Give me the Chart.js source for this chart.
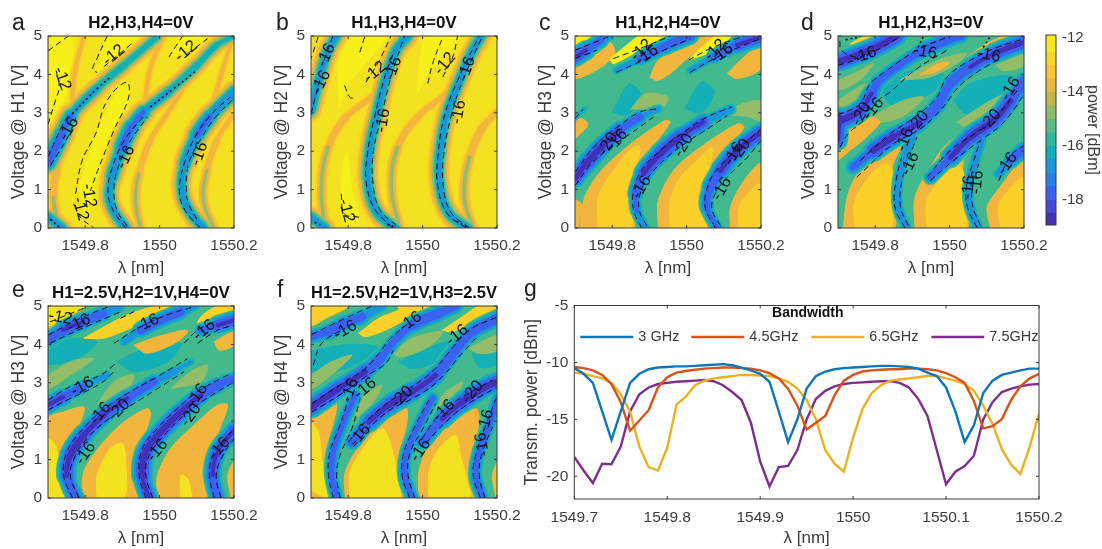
<!DOCTYPE html>
<html>
<head>
<meta charset="utf-8">
<script src="https://cdn.jsdelivr.net/npm/chart.js@4"></script>
<style>
  html, body { margin: 0; padding: 0; background: #fff; }
  body { width: 1102px; height: 549px; position: relative; overflow: hidden; }
  canvas { position: absolute; filter: blur(0.45px); }
</style>
</head>
<body>
<script>
// Axis ticks
const lambdaTicks = [1549.8, 1550, 1550.2];
const voltTicks = [0, 1, 2, 3, 4, 5];
const gLambdaTicks = [1549.7, 1549.8, 1549.9, 1550, 1550.1, 1550.2];
const gPowerTicks = [-20, -15, -10, -5];
const cbarTicks = [-18, -16, -14, -12];

// Colour bar
const cbarEdges = [-11.9, -12.5, -13, -13.5, -14, -14.5, -15, -15.5, -16, -16.5, -17, -17.5, -18, -18.5, -19];
const cbarColors = ['#f6ea1e', '#f9d72a', '#f8c534', '#e6b93e', '#c4b84c', '#8fbc68', '#5cba84', '#2fb69e', '#12aebc', '#1a98d8', '#2a80e8', '#3a62ee', '#4448d8', '#4430b0'];

// Contour fill levels [dBm] and their colours
const powerLevels = [-12, -12.5, -13, -13.7, -14.7, -15.5, -16, -16.7, -17.5, -18.8];
const powerColors = ['#f8f01a', '#f3e21f', '#fbd028', '#f3b63c', '#93bd68', '#43b98e', '#14b0b8', '#1a94dc', '#3a62ee', '#4330b8'];

// Panel g: transmitted power
const lambdaG = [1549.70, 1549.71, 1549.72, 1549.73, 1549.74, 1549.75, 1549.76, 1549.77, 1549.78, 1549.79,
  1549.80, 1549.81, 1549.82, 1549.83, 1549.84, 1549.85, 1549.86, 1549.87, 1549.88, 1549.89,
  1549.90, 1549.91, 1549.92, 1549.93, 1549.94, 1549.95, 1549.96, 1549.97, 1549.98, 1549.99,
  1550.00, 1550.01, 1550.02, 1550.03, 1550.04, 1550.05, 1550.06, 1550.07, 1550.08, 1550.09,
  1550.10, 1550.11, 1550.12, 1550.13, 1550.14, 1550.15, 1550.16, 1550.17, 1550.18, 1550.19, 1550.20];
const bw3 = [-10.5, -11, -11.8, -14.3, -16.8, -14.3, -11.8, -11, -10.6, -10.45,
  -10.4, -10.35, -10.35, -10.3, -10.25, -10.2, -10.15, -10.25, -10.45, -10.7,
  -11, -11.7, -14.3, -17, -15, -12.3, -11.2, -10.8, -10.6, -10.5,
  -10.45, -10.4, -10.35, -10.3, -10.3, -10.35, -10.4, -10.55, -10.9, -11.2,
  -12.2, -14.3, -17, -15.5, -12.7, -11.6, -11.1, -10.9, -10.7, -10.55, -10.55];
const bw45 = [-10.4, -10.5, -10.7, -11.1, -11.9, -13.5, -16, -15.1, -14.2, -12.2,
  -11.3, -10.9, -10.75, -10.65, -10.55, -10.5, -10.45, -10.45, -10.5, -10.55,
  -10.7, -10.95, -11.4, -12.3, -13.8, -15.9, -15.3, -14.7, -12.9, -11.6,
  -11.1, -10.8, -10.7, -10.65, -10.6, -10.6, -10.55, -10.55, -10.6, -10.7,
  -10.95, -11.3, -11.8, -13.4, -15.8, -15.6, -15, -13.3, -12.1, -11.4, -11];
const bw65 = [-10.9, -11, -11.2, -11.4, -11.8, -12.8, -14.3, -17.4, -19.2, -19.5,
  -17.5, -13.7, -13, -12, -11.6, -11.4, -11.3, -11.2, -11.1, -11.1,
  -11.15, -11.2, -11.4, -11.7, -12.3, -13.3, -15, -17.7, -18.9, -19.6,
  -16.6, -14.1, -12.7, -12, -11.6, -11.5, -11.4, -11.3, -11.2, -11.2,
  -11.4, -11.6, -11.9, -12.5, -13.8, -15.4, -17.6, -19, -19.8, -17.4, -14.5];
const bw75 = [-18.3, -19.5, -20.6, -18.9, -18.95, -17.4, -14.3, -12.8, -12.2, -11.9,
  -11.8, -11.7, -11.65, -11.6, -11.55, -11.65, -12, -12.6, -13.3, -15.3,
  -18.7, -20.9, -19.2, -19.1, -17.7, -15, -13.2, -12.5, -12.1, -11.9,
  -11.8, -11.75, -11.7, -11.65, -11.65, -11.8, -12.2, -13.2, -14.7, -17.7,
  -20.7, -19.6, -19.1, -18.2, -15, -13.5, -12.6, -12.3, -12.1, -11.95, -11.9];

// Panel a: ridge lines [lambda, volt, power], filled regions [power, outline], contours, labels
const ridgesA = [
  [[1549.70,1.70,-18],[1549.738,2.45,-18.5],[1549.762,2.93,-17],[1549.831,3.63,-16.7],[1549.903,4.23,-16.5],[1549.992,4.97,-16.3]],
  [[1549.907,0.02,-17],[1549.881,0.37,-17],[1549.865,0.80,-17],[1549.872,1.33,-17],[1549.899,2.10,-18],[1549.925,2.63,-18.5],[1549.957,3.02,-17],[1550.028,3.58,-16.7],[1550.10,4.23,-16.5],[1550.153,4.76,-16.3],[1550.2,5,-16]],
  [[1550.118,0,-17],[1550.082,0.41,-17],[1550.06,0.97,-17],[1550.068,1.67,-17],[1550.10,2.41,-18],[1550.135,2.89,-18],[1550.2,3.54,-17]],
  [[1549.70,0.28,-17],[1549.737,0,-17]],
  [[1549.729,0,-14.5],[1549.715,0.8,-15],[1549.724,1.58,-14.3],[1549.751,2.45,-14]],
  [[1549.948,0,-14.5],[1549.935,0.71,-15],[1549.944,1.41,-14.5],[1549.975,2.28,-14.2],[1550.02,2.97,-14],[1550.06,3.58,-14]],
  [[1550.145,0,-14.5],[1550.118,0.71,-15],[1550.127,1.5,-14.5],[1550.154,2.28,-14.2],[1550.2,2.97,-14]],
  [[1549.765,3.32,-14],[1549.773,4.1,-14],[1549.796,5,-14]],
  [[1549.958,3.15,-14],[1549.976,4.19,-14],[1550.011,5,-14]],
  [[1550.145,3.32,-14],[1550.172,4.19,-14],[1550.194,4.9,-14]]
];
const lobesA = [
  [-12, [[1549.707,5],[1549.76,5],[1549.765,4.2],[1549.742,3.3],[1549.707,2.8]]],
  [-12, [[1549.783,1.06],[1549.823,2.28],[1549.877,3.41],[1549.917,3.76],[1549.917,3.32],[1549.877,2.45],[1549.832,1.32],[1549.805,0.37]]],
  [-12, [[1549.832,4.06],[1549.859,5],[1549.949,5],[1549.868,4.28]]],
  [-12, [[1550.03,4.45],[1550.057,5],[1550.129,5],[1550.075,4.63]]]
];
const contoursA = [
  [[1549.70,1.85],[1549.74,2.7],[1549.76,3.0]],
  [[1549.707,1.63],[1549.755,2.4],[1549.775,2.87]],
  [[1549.909,0],[1549.873,0.5],[1549.861,0.97],[1549.873,1.58],[1549.905,2.28],[1549.959,2.93]],
  [[1549.913,0.05],[1549.886,0.45],[1549.877,0.97],[1549.886,1.5],[1549.917,2.2],[1549.967,2.89]],
  [[1550.109,0],[1550.069,0.45],[1550.053,0.97],[1550.069,1.76],[1550.10,2.45],[1550.145,3.02],[1550.19,3.41]],
  [[1550.10,0.23],[1550.078,0.63],[1550.072,0.97],[1550.078,1.67],[1550.114,2.37],[1550.154,2.93],[1550.2,3.37]],
  [[1549.70,4.61],[1549.755,5]],
  [[1549.70,2.7],[1549.72,3.32],[1549.73,3.67],[1549.722,4.1]],
  [[1549.859,5],[1549.832,4.42],[1549.82,4.13],[1549.832,4.05]],
  [[1549.85,4.2],[1549.93,4.84]],
  [[1549.774,0.89],[1549.792,1.76],[1549.828,2.45],[1549.859,3.32],[1549.911,3.8],[1549.917,3.41],[1549.877,2.54],[1549.837,1.58],[1549.814,0.97]],
  [[1549.769,0.63],[1549.787,0.28],[1549.823,0]],
  [[1550.025,4.45],[1550.048,4.8],[1550.062,5]],
  [[1550.075,4.54],[1550.129,4.93]]
];
const dottedA = [
  [[1549.765,2.97],[1549.832,3.63],[1549.868,3.93]],
  [[1549.975,3.15],[1550.038,3.63],[1550.10,4.1]],
  [[1549.706,0.23],[1549.733,0]]
];
const labelsA = [
  [1549.738,3.89,'-12',70],[1549.877,4.5,'-12',-40],[1550.071,4.6,'-12',-40],[1549.756,2.58,'-16',-60],
  [1549.909,1.84,'-16',-65],[1550.107,1.93,'-16',-70],[1549.81,0.84,'-12',80],[1549.787,0.5,'-12',75]
];

// Panel b
const ridgesB = [
  [[1549.925,0,-17],[1549.875,0.45,-17],[1549.853,1.23,-17],[1549.857,2.02,-17],[1549.875,2.89,-17],[1549.902,3.93,-17],[1549.929,4.63,-17],[1549.96,5,-17]],
  [[1550.121,0,-17],[1550.072,0.37,-17],[1550.047,1.06,-17],[1550.045,1.84,-17],[1550.063,2.89,-17],[1550.099,3.84,-17],[1550.126,4.45,-17],[1550.157,5,-17]],
  [[1549.70,3.06,-17],[1549.723,3.93,-17],[1549.746,4.63,-17],[1549.768,5,-17]],
  [[1549.70,0.28,-17],[1549.737,0,-17]],
  [[1549.737,0,-14.7],[1549.728,1.06,-15],[1549.746,2.1,-14.7],[1549.795,2.89,-14.3],[1549.866,3.45,-14.2],[1549.898,3.8,-14.2]],
  [[1549.938,0,-14.7],[1549.916,1.06,-15],[1549.933,2.1,-14.7],[1549.987,2.89,-14.3],[1550.063,3.5,-14.2],[1550.094,3.84,-14.2]],
  [[1550.135,0,-14.7],[1550.112,0.8,-15],[1550.126,1.84,-14.8],[1550.162,2.63,-14.5],[1550.2,3.02,-14.3]]
];
const lobesB = [
  [-12, [[1549.775,3.1],[1549.80,3.76],[1549.846,4.28],[1549.90,5],[1549.785,5]]],
  [-12, [[1549.985,3.5],[1550.02,4.1],[1550.07,4.6],[1550.10,5],[1550.01,5]]],
  [-12, [[1549.79,0.1],[1549.78,1.0],[1549.795,2.0],[1549.81,1.0],[1549.83,0.1]]]
];
const contoursB = [
  [[1549.92,0],[1549.871,0.5],[1549.848,1.23],[1549.853,2.02],[1549.871,2.89],[1549.898,3.93],[1549.924,4.63]],
  [[1549.929,0.06],[1549.884,0.5],[1549.866,1.23],[1549.868,2.02],[1549.889,2.89],[1549.915,3.93],[1549.951,5]],
  [[1550.117,0],[1550.067,0.37],[1550.041,1.06],[1550.041,1.84],[1550.058,2.89],[1550.094,3.84],[1550.152,5]],
  [[1550.126,0],[1550.076,0.41],[1550.056,1.06],[1550.056,1.84],[1550.076,2.89],[1550.108,3.84],[1550.161,5]],
  [[1549.70,2.97],[1549.723,3.84]],
  [[1549.719,4.97],[1549.70,4.41]],
  [[1549.759,5],[1549.732,4.28]],
  [[1549.79,3.71],[1549.804,3.41],[1549.817,3.37]],
  [[1549.848,3.8],[1549.884,4.37],[1549.915,5]],
  [[1549.844,4.97],[1549.83,4.54]],
  [[1550.014,3.76],[1550.027,4.28],[1550.054,4.97]],
  [[1550.054,3.93],[1550.081,4.45],[1550.094,5]],
  [[1549.781,0.89],[1549.79,0.37],[1549.83,0.28]]
];
const dottedB = [[[1549.71,0.15],[1549.725,0.08]], [[1549.905,0.1],[1549.93,0]], [[1550.09,0.18],[1550.125,0]]];
const labelsB = [
  [1549.741,4.5,'-16',-65],[1549.728,3.8,'-16',-65],[1549.872,4.06,'-12',-40],[1549.921,4.15,'-16',-70],
  [1550.06,4.28,'-12',-50],[1550.119,4.15,'-16',-70],[1549.894,2.8,'-16',-80],[1550.097,3.02,'-16',-80],[1549.795,0.45,'-12',75]
];

// Panel c
const ridgesC = [
  [[1549.70,1.28,-19],[1549.73,1.67,-19.5],[1549.775,2.15,-19.5],[1549.82,2.54,-19],[1549.875,2.89,-17.5],[1549.924,3.1,-16.5]],
  [[1549.70,2.89,-16.5],[1549.726,3.1,-16.5]],
  [[1549.888,0,-17.5],[1549.866,0.45,-17.5],[1549.864,0.89,-18],[1549.884,1.41,-19],[1549.929,1.93,-19.5],[1549.983,2.37,-19.5],[1550.046,2.76,-18.5],[1550.118,3.1,-16.5]],
  [[1550.082,0,-17.5],[1550.055,0.54,-18],[1550.064,1.06,-18.5],[1550.091,1.5,-19],[1550.136,2.02,-19.5],[1550.2,2.5,-19]],
  [[1549.70,4.45,-19],[1549.73,4.63,-19],[1549.77,4.89,-17.5],[1549.794,5,-17]],
  [[1549.812,4.1,-16.5],[1549.875,4.41,-17.5],[1549.938,4.71,-19],[1550.01,5,-18]],
  [[1550.01,4.1,-16.5],[1550.073,4.45,-17.5],[1550.136,4.76,-19],[1550.2,4.97,-19]]
];
const lobesC = [
  [-16, [[1549.80,3.0],[1549.845,3.75],[1549.875,3.5],[1549.845,2.95]]],
  [-16, [[1549.995,3.1],[1550.04,3.8],[1550.075,3.55],[1550.04,3.0]]],
  [-14, [[1549.713,0],[1549.726,0.8],[1549.771,1.5],[1549.857,2.24],[1549.942,2.8],[1549.956,2.76],[1549.902,2.02],[1549.857,1.33],[1549.848,0.71],[1549.857,0]]],
  [-13, [[1549.762,0],[1549.762,0.8],[1549.803,1.5],[1549.857,2.1],[1549.875,2.1],[1549.861,1.41],[1549.848,0.71],[1549.852,0]]],
  [-14, [[1549.924,0],[1549.924,0.71],[1549.965,1.5],[1550.037,2.1],[1550.136,2.71],[1550.154,2.63],[1550.10,1.93],[1550.064,1.41],[1550.046,0.71],[1550.055,0]]],
  [-13, [[1549.956,0],[1549.956,0.71],[1549.983,1.32],[1550.037,1.84],[1550.068,2.1],[1550.059,1.41],[1550.046,0.71],[1550.05,0]]],
  [-14, [[1550.118,0],[1550.118,0.54],[1550.154,1.23],[1550.2,1.67],[1550.2,0]]],
  [-13, [[1550.14,0],[1550.145,0.63],[1550.2,1.15],[1550.2,0]]],
  [-14, [[1549.70,0],[1549.70,0.71],[1549.717,0.63],[1549.708,0]]],
  [-14, [[1549.70,2.32],[1549.735,2.71],[1549.70,2.89]]],
  [-15, [[1550.096,2.95],[1550.14,3.2],[1550.2,3.3],[1550.2,2.8],[1550.165,2.9]]],
  [-15, [[1549.85,3.1],[1549.89,3.5],[1549.95,3.4],[1549.93,3.1]]],
  [-14, [[1549.70,4.23],[1549.73,4.41],[1549.767,4.59],[1549.794,4.84],[1549.807,4.54],[1549.771,4.19],[1549.70,3.89]]],
  [-14, [[1549.902,3.93],[1549.924,4.37],[1549.974,4.63],[1550.028,4.93],[1550.082,5],[1550.001,4.41],[1549.956,4.02],[1549.92,3.84]]],
  [-14, [[1550.109,4.02],[1550.154,4.45],[1550.2,4.76],[1550.2,4.15],[1550.136,3.89]]],
  [-12, [[1549.70,5],[1549.771,5],[1549.753,4.84],[1549.70,4.67]]],
  [-12, [[1549.794,4.41],[1549.839,4.76],[1549.875,5],[1549.983,5],[1549.938,4.84],[1549.866,4.58],[1549.803,4.28]]],
  [-12, [[1550.005,4.37],[1550.046,4.76],[1550.082,5],[1550.181,5],[1550.118,4.8],[1550.055,4.54]]]
];
const contoursC = [
  [[1549.70,1.45],[1549.758,2.19],[1549.82,2.67],[1549.875,3.02],[1549.924,3.11]],
  [[1549.70,1.1],[1549.74,1.63],[1549.794,2.1],[1549.848,2.45],[1549.911,2.89]],
  [[1549.70,2.85],[1549.722,3.1]],
  [[1549.879,0],[1549.858,0.45],[1549.857,0.97],[1549.879,1.5],[1549.929,2.02],[1549.992,2.5],[1550.055,2.89],[1550.122,3.15]],
  [[1549.893,0.06],[1549.873,0.45],[1549.875,0.89],[1549.897,1.32],[1549.947,1.84],[1550,2.23],[1550.064,2.63],[1550.109,2.93]],
  [[1550.077,0],[1550.05,0.54],[1550.059,1.15],[1550.091,1.63],[1550.154,2.19],[1550.2,2.58]],
  [[1550.091,0.06],[1550.068,0.5],[1550.077,0.89],[1550.109,1.32],[1550.163,1.84],[1550.2,2.28]],
  [[1549.70,4.63],[1549.767,4.89],[1549.794,5]],
  [[1549.70,4.41],[1549.758,4.63]],
  [[1549.803,4.41],[1549.884,4.71],[1549.956,5]],
  [[1549.812,4.06],[1549.884,4.37],[1549.947,4.67],[1550.01,4.93]],
  [[1550.005,4.37],[1550.072,4.71],[1550.154,5]],
  [[1550.01,4.06],[1550.082,4.45],[1550.154,4.76],[1550.2,4.93]]
];
const labelsC = [
  [1549.879,4.63,'-12',-45],[1549.893,4.5,'-16',-35],[1550.077,4.63,'-12',-45],[1550.095,4.54,'-16',-35],
  [1549.789,2.19,'-20',-60],[1549.813,2.28,'-16',-50],[1549.992,2.15,'-20',-60],[1549.879,1.06,'-16',-60],
  [1550.127,1.93,'-16',-60],[1550.145,2.02,'-20',-55],[1550.095,1.02,'-16',-60]
];

// Panel d
const ridgesD = [
  [[1549.70,2.76,-19.5],[1549.759,3.06,-19.5],[1549.79,3.5,-18.5],[1549.808,3.8,-18.5],[1549.858,4.19,-18],[1549.92,4.58,-18.5],[1550.002,4.93,-19],[1550.029,5,-18]],
  [[1549.74,1.58,-17],[1549.795,2.02,-19.5],[1549.849,2.37,-19.5],[1549.92,2.76,-19],[1549.97,3.23,-18.5],[1550.002,3.76,-18.5],[1550.055,4.19,-19],[1550.119,4.54,-19],[1550.2,4.84,-19.5]],
  [[1549.885,0,-17.5],[1549.862,0.54,-17.5],[1549.862,1.23,-17.5],[1549.88,1.84,-17.5],[1549.898,2.37,-17.5]],
  [[1549.948,1.32,-17],[1550.002,1.84,-19],[1550.056,2.37,-19.5],[1550.119,2.8,-19.5],[1550.164,3.32,-19],[1550.2,3.84,-18.5]],
  [[1550.078,0,-17.5],[1550.055,0.54,-17.5],[1550.051,1.06,-17.5],[1550.069,1.76,-17.5],[1550.087,2.37,-17.5]],
  [[1550.132,1.41,-17],[1550.164,1.76,-18],[1550.2,2.06,-19]],
  [[1549.70,4.32,-19.5],[1549.75,4.5,-19.5],[1549.803,4.71,-19.5],[1549.858,5,-19.5]],
  [[1549.705,2.9,-19],[1549.70,2.28,-19]]
];
const lobesD = [
  [-16, [[1549.8125,3.67],[1549.867,4.02],[1549.948,4.15],[1549.993,3.89],[1549.93,3.41],[1549.84,3.23]]],
  [-16, [[1550.01,3.32],[1550.055,3.76],[1550.146,3.97],[1550.19,3.84],[1550.128,3.41],[1550.047,2.97]]],
  [-14, [[1549.714,0],[1549.727,0.89],[1549.768,1.67],[1549.82,2.19],[1549.877,2.54],[1549.868,2.1],[1549.846,1.58],[1549.85,0.71],[1549.85,0]]],
  [-13, [[1549.745,0],[1549.745,0.71],[1549.79,1.41],[1549.83,1.67],[1549.849,1.41],[1549.844,0.71],[1549.84,0]]],
  [-14, [[1549.70,1.76],[1549.70,2.45],[1549.759,2.8],[1549.822,2.89],[1549.777,2.37],[1549.732,2.02]]],
  [-14, [[1549.907,0],[1549.907,0.8],[1549.948,1.58],[1549.993,2.19],[1550.065,2.63],[1550.074,2.54],[1550.038,1.84],[1550.038,0.71],[1550.047,0]]],
  [-13, [[1549.939,0],[1549.939,0.71],[1549.98,1.32],[1550.025,1.62],[1550.043,1.23],[1550.038,0.54],[1550.043,0]]],
  [-14, [[1550.11,0],[1550.101,0.54],[1550.128,0.97],[1550.2,1.76],[1550.2,0]]],
  [-13, [[1550.137,0],[1550.133,0.63],[1550.2,1.32],[1550.2,0]]],
  [-15, [[1549.866,3.85],[1549.929,4.19],[1549.992,4.45],[1550.046,4.54],[1550.01,4.23],[1549.947,3.93]]],
  [-14, [[1549.92,4.0],[1549.97,4.28],[1550.0,4.3],[1549.96,4.05]]],
  [-15, [[1550.119,4.28],[1550.2,4.6],[1550.2,4.24],[1550.146,4.1]]],
  [-13, [[1549.732,4.8],[1549.777,5],[1549.83,5],[1549.786,4.71]]],
  [-14, [[1549.876,4.5],[1549.93,4.84],[1549.975,5],[1550.038,5],[1549.975,4.76],[1549.903,4.45]]],
  [-14, [[1550.047,4.45],[1550.092,4.76],[1550.146,5],[1550.2,5],[1550.146,4.8],[1550.083,4.5]]],
  [-15, [[1549.70,3.32],[1549.74,3.58],[1549.777,3.76],[1549.759,3.41],[1549.70,3.06]]],
  [-15, [[1549.795,2.93],[1549.876,3.32],[1549.93,3.41],[1549.885,2.97],[1549.822,2.76]]],
  [-15, [[1550.019,2.76],[1550.11,3.32],[1550.155,3.5],[1550.11,2.97],[1550.047,2.63]]],
  [-15, [[1549.70,3.85],[1549.75,4.06],[1549.795,4.28],[1549.759,3.85],[1549.70,3.58]]]
];
const contoursD = [
  [[1549.70,2.94],[1549.759,3.23],[1549.786,3.75],[1549.831,4.1],[1549.912,4.63],[1550.002,5]],
  [[1549.705,2.1],[1549.727,2.45],[1549.772,2.84],[1549.808,3.32],[1549.84,3.54],[1549.912,4.15],[1549.993,4.63]],
  [[1549.759,1.75],[1549.84,2.45],[1549.912,2.93],[1549.966,3.41],[1549.993,3.93],[1550.056,4.37],[1550.119,4.67],[1550.2,4.93]],
  [[1549.75,1.32],[1549.849,2.19],[1549.921,2.58],[1549.979,3.11],[1550.024,3.67],[1550.074,4.06],[1550.128,4.37]],
  [[1549.88,0],[1549.853,0.54],[1549.856,1.23],[1549.871,1.84]],
  [[1549.889,0.06],[1549.868,0.54],[1549.871,1.19],[1549.889,1.76],[1549.912,2.37]],
  [[1549.939,1.32],[1550.002,2.02],[1550.074,2.5],[1550.128,2.93],[1550.182,3.58]],
  [[1549.948,1.23],[1550.011,1.76],[1550.083,2.28],[1550.146,2.76],[1550.202,3.5]],
  [[1550.074,0],[1550.048,0.54],[1550.045,1.06],[1550.065,1.76],[1550.083,2.28]],
  [[1550.083,0.06],[1550.063,0.54],[1550.06,0.97],[1550.078,1.67]],
  [[1550.132,1.23],[1550.164,1.89],[1550.2,2.15]],
  [[1549.705,4.87],[1549.709,4.63],[1549.75,4.45],[1549.786,4.58]],
  [[1549.70,4.23],[1549.768,4.45],[1549.858,4.93]]
];
const dottedD = [[[1549.72,4.9],[1549.76,4.98]], [[1549.915,4.7],[1549.93,5]], [[1550.09,4.7],[1550.11,5]]];
const labelsD = [
  [1549.772,4.5,'-16',-20],[1549.934,4.58,'-16',10],[1550.105,4.5,'-16',10],[1549.763,2.97,'-20',-60],
  [1549.795,3.1,'-16',-50],[1549.894,1.67,'-16',-65],[1549.916,2.76,'-20',-50],[1549.88,2.3,'-16',-70],
  [1550.11,2.8,'-20',-50],[1550.164,3.63,'-16',-60],[1550.051,1.06,'-16',-85],[1550.074,1.19,'-16',-85],[1550.155,1.67,'-16',-55]
];

// Panel e
const ridgesE = [
  [[1549.70,4.11,-18],[1549.741,4.37,-19],[1549.795,4.59,-19],[1549.849,4.8,-18],[1549.894,5,-17]],
  [[1549.904,4.07,-16.5],[1549.949,4.37,-18],[1550.003,4.63,-19],[1550.057,4.85,-18],[1550.093,5,-17]],
  [[1550.111,4.37,-17],[1550.156,4.5,-19],[1550.2,4.63,-19]],
  [[1549.70,2.42,-19],[1549.741,2.63,-19],[1549.795,2.9,-17.5],[1549.859,3.2,-16.5]],
  [[1549.774,0,-18.5],[1549.751,0.59,-19],[1549.76,1.11,-19.5],[1549.796,1.63,-19.5],[1549.85,2.16,-19],[1549.913,2.59,-19],[1549.985,3.03,-18],[1550.039,3.29,-17],[1550.084,3.55,-16.5]],
  [[1549.972,0,-18.5],[1549.954,0.59,-19.5],[1549.963,1.2,-19.5],[1550.003,1.72,-19.5],[1550.057,2.24,-19.5],[1550.111,2.68,-19],[1550.156,2.94,-18.5],[1550.2,3.11,-18]],
  [[1550.156,0,-18.5],[1550.143,0.59,-19],[1550.156,1.2,-19],[1550.2,1.77,-19]]
];
const lobesE = [
  [-16, [[1549.70,3.94],[1549.769,4.16],[1549.832,4.07],[1549.778,3.63],[1549.70,3.5]]],
  [-16, [[1549.886,3.55],[1549.949,3.85],[1550.057,4.03],[1550.021,3.55],[1549.931,3.29]]],
  [-14, [[1549.792,0],[1549.796,0.68],[1549.841,1.37],[1549.904,1.98],[1549.967,2.33],[1549.976,2.16],[1549.954,1.46],[1549.949,0.94],[1549.94,0]]],
  [-12.5, [[1549.832,0],[1549.832,0.59],[1549.868,1.29],[1549.90,1.42],[1549.909,0.94],[1549.904,0]]],
  [-14, [[1549.994,0],[1549.994,0.59],[1550.03,1.29],[1550.102,1.98],[1550.156,2.42],[1550.183,2.42],[1550.156,1.63],[1550.152,0.94],[1550.138,0]]],
  [-12.5, [[1550.057,0],[1550.057,0.59],[1550.075,0.5],[1550.084,0]]],
  [-14, [[1549.70,0],[1549.70,2.07],[1549.742,2.24],[1549.796,2.37],[1549.787,1.98],[1549.748,1.29],[1549.742,0.59],[1549.756,0]]],
  [-12.5, [[1549.70,0],[1549.70,1.55],[1549.72,1.37],[1549.733,0.59],[1549.742,0]]],
  [-14, [[1550.192,0],[1550.183,0.59],[1550.2,0.94],[1550.2,0]]],
  [-14, [[1549.70,4.2],[1549.70,5],[1549.80,5],[1549.74,4.6]]],
  [-12.5, [[1549.70,5],[1549.796,5],[1549.747,4.71],[1549.70,4.5]]],
  [-13, [[1549.796,4.16],[1549.859,4.5],[1549.913,4.77],[1549.994,5],[1550.075,5],[1550.003,4.77],[1549.931,4.46],[1549.85,4.16]]],
  [-13, [[1550.093,4.33],[1550.111,4.72],[1550.156,5],[1550.2,5],[1550.2,4.81],[1550.147,4.59],[1550.093,4.33]]],
  [-14, [[1549.931,3.98],[1549.994,4.2],[1550.075,4.37],[1550.048,4.07],[1549.967,3.77]]],
  [-15, [[1549.70,3.2],[1549.76,3.55],[1549.823,3.63],[1549.76,3.2],[1549.70,2.85]]],
  [-15, [[1549.832,2.42],[1549.877,3.03],[1549.931,3.2],[1549.904,2.68]]],
  [-15, [[1550.03,2.85],[1550.084,3.29],[1550.129,3.46],[1550.111,3.03]]],
  [-14, [[1550.147,4.07],[1550.2,4.33],[1550.2,3.98],[1550.16,3.85]]]
];
const contoursE = [
  [[1549.70,4.24],[1549.796,4.72],[1549.868,5]],
  [[1549.706,4.03],[1549.751,4.24],[1549.823,4.55],[1549.895,4.85]],
  [[1549.877,4.03],[1549.949,4.46],[1550.021,4.77],[1550.093,4.98]],
  [[1549.895,4.68],[1549.931,4.85]],
  [[1550.066,4.03],[1550.102,4.37],[1550.147,4.59]],
  [[1550.102,4.03],[1550.156,4.37],[1550.2,4.5]],
  [[1549.70,2.55],[1549.76,2.9],[1549.841,3.2],[1549.882,3.5]],
  [[1549.70,2.29],[1549.751,2.55],[1549.841,2.98],[1549.877,3.29]],
  [[1549.766,0],[1549.742,0.59],[1549.751,1.2],[1549.787,1.72],[1549.841,2.24],[1549.913,2.72],[1549.994,3.16],[1550.075,3.63]],
  [[1549.783,0],[1549.76,0.59],[1549.774,1.11],[1549.805,1.55],[1549.859,2.03],[1549.931,2.46],[1550.003,2.9],[1550.066,3.29]],
  [[1549.963,0],[1549.945,0.59],[1549.954,1.29],[1549.994,1.81],[1550.048,2.33],[1550.102,2.77],[1550.156,3.07],[1550.192,3.24]],
  [[1549.981,0],[1549.963,0.59],[1549.972,1.11],[1550.012,1.63],[1550.066,2.16],[1550.12,2.55],[1550.192,2.98]],
  [[1550.147,0],[1550.134,0.59],[1550.147,1.2],[1550.192,1.72]],
  [[1550.165,0],[1550.152,0.59],[1550.17,1.11],[1550.2,1.55]],
  [[1549.706,4.59],[1549.796,4.94]]
];
const labelsE = [
  [1549.733,4.7,'-12',10],[1549.783,4.55,'-16',-25],[1549.967,4.55,'-16',-25],[1550.12,4.37,'-16',-40],
  [1549.792,2.9,'-16',-30],[1549.841,2.2,'-16',-50],[1549.891,2.29,'-20',-45],[1550.084,2.16,'-20',-55],
  [1550.102,2.68,'-16',-55],[1549.801,1.16,'-16',-55],[1549.994,1.24,'-16',-50],[1550.161,1.29,'-16',-50]
];

// Panel f
const ridgesF = [
  [[1549.70,4.2,-18],[1549.747,4.33,-18.5],[1549.792,4.55,-19],[1549.837,4.72,-18],[1549.891,5,-17]],
  [[1549.702,2.37,-19.5],[1549.774,2.85,-19.5],[1549.846,3.29,-19],[1549.886,3.63,-18.5],[1549.922,4.07,-18],[1549.972,4.5,-18.5],[1550.044,4.81,-19],[1550.089,5,-18]],
  [[1549.81,1.46,-18],[1549.855,1.98,-19],[1549.909,2.42,-19.5],[1549.972,2.77,-19.5],[1550.035,3.2,-19],[1550.089,3.85,-18.5],[1550.134,4.33,-18.5],[1550.202,4.68,-19]],
  [[1549.769,0,-18],[1549.756,0.59,-18],[1549.76,1.2,-18],[1549.787,1.98,-18],[1549.819,2.68,-18]],
  [[1549.972,0,-18],[1549.952,0.59,-18],[1549.958,1.2,-18],[1549.99,1.9,-18],[1550.026,2.59,-18]],
  [[1549.999,1.46,-18],[1550.053,2.07,-19],[1550.107,2.5,-19.5],[1550.161,2.85,-19.5],[1550.202,3.03,-19.5]],
  [[1550.161,0,-18],[1550.143,0.59,-18],[1550.152,1.2,-18],[1550.179,1.9,-18],[1550.202,2.59,-18]]
];
const lobesF = [
  [-16, [[1549.70,3.83],[1549.80,4.0],[1549.88,3.91],[1549.80,3.39],[1549.70,3.3]]],
  [-16, [[1549.936,3.54],[1549.999,3.84],[1550.071,4.06],[1550.044,3.58],[1549.972,3.37]]],
  [-16, [[1550.134,3.76],[1550.202,3.97],[1550.202,3.5],[1550.152,3.41]]],
  [-14, [[1549.70,0],[1549.70,2.16],[1549.747,2.46],[1549.769,2.42],[1549.747,1.46],[1549.742,0.59],[1549.751,0]]],
  [-12.5, [[1549.70,0.2],[1549.70,1.95],[1549.72,1.7],[1549.733,0.6],[1549.742,0]]],
  [-14, [[1549.792,0],[1549.792,0.68],[1549.837,1.46],[1549.891,1.98],[1549.954,2.37],[1549.958,1.98],[1549.94,1.2],[1549.945,0]]],
  [-12.5, [[1549.805,0],[1549.805,0.68],[1549.846,1.37],[1549.891,1.81],[1549.909,1.55],[1549.931,0.68],[1549.936,0]]],
  [-14, [[1549.99,0],[1549.99,0.68],[1550.017,1.37],[1550.08,1.98],[1550.143,2.33],[1550.152,2.07],[1550.134,0.94],[1550.138,0]]],
  [-12.5, [[1550.017,0],[1550.017,0.68],[1550.044,1.29],[1550.089,1.63],[1550.102,1.11],[1550.12,0.42],[1550.125,0]]],
  [-14, [[1550.197,0],[1550.188,0.59],[1550.202,0.94],[1550.202,0]]],
  [-13, [[1549.70,5],[1549.80,5],[1549.738,4.67],[1549.70,4.5]]],
  [-13, [[1549.828,4.29],[1549.882,4.68],[1549.936,4.9],[1549.936,5],[1550.044,5],[1549.963,4.68],[1549.90,4.37],[1549.846,4.2]]],
  [-13, [[1550.053,4.37],[1550.107,4.72],[1550.152,5],[1550.202,5],[1550.202,4.9],[1550.143,4.59],[1550.08,4.33]]],
  [-15, [[1549.918,3.76],[1549.972,4.16],[1550.053,4.33],[1550.017,3.94],[1549.945,3.68]]],
  [-15, [[1550.125,3.9],[1550.202,4.24],[1550.202,3.85],[1550.152,3.76]]],
  [-15, [[1549.70,3.2],[1549.756,3.55],[1549.81,3.72],[1549.765,3.29],[1549.70,2.85]]],
  [-15, [[1549.80,1.98],[1549.836,2.59],[1549.891,2.94],[1549.855,2.33]]],
  [-15, [[1550.008,2.07],[1550.044,2.59],[1550.107,3.03],[1550.08,2.5]]]
];
const contoursF = [
  [[1549.706,3.46],[1549.729,4.03],[1549.792,4.42]],
  [[1549.702,4.26],[1549.792,4.68],[1549.864,5]],
  [[1549.702,2.46],[1549.783,2.98],[1549.846,3.37],[1549.882,3.76],[1549.914,4.16],[1549.972,4.63]],
  [[1549.702,2.24],[1549.783,2.72],[1549.846,3.16],[1549.90,3.5],[1549.922,3.85]],
  [[1549.801,1.46],[1549.846,1.98],[1549.909,2.5],[1549.972,2.9],[1550.026,3.29],[1550.075,3.85],[1550.125,4.37],[1550.202,4.72]],
  [[1549.814,1.33],[1549.864,1.9],[1549.918,2.33],[1549.981,2.63],[1550.044,3.07],[1550.098,3.68],[1550.143,4.16]],
  [[1549.76,0],[1549.747,0.59],[1549.751,1.2],[1549.778,1.9],[1549.801,2.59]],
  [[1549.778,0],[1549.769,0.59],[1549.778,1.11],[1549.81,1.81],[1549.832,2.59]],
  [[1549.965,0],[1549.945,0.59],[1549.95,1.2],[1549.981,1.9],[1550.017,2.55]],
  [[1549.979,0],[1549.961,0.59],[1549.967,1.2],[1549.999,1.77],[1550.035,2.46]],
  [[1549.999,1.55],[1550.044,2.16],[1550.107,2.63],[1550.188,3.07]],
  [[1550.008,1.42],[1550.062,1.98],[1550.116,2.41],[1550.202,2.9]],
  [[1550.155,0],[1550.136,0.59],[1550.145,1.2],[1550.17,1.9],[1550.197,2.59]],
  [[1550.168,0],[1550.152,0.59],[1550.161,1.2],[1550.188,1.85]]
];
const labelsF = [
  [1549.792,4.37,'-16',-30],[1549.967,4.59,'-16',-35],[1550.093,4.24,'-16',-40],[1549.805,2.81,'-16',-70],
  [1549.846,2.85,'-16',-40],[1549.945,2.63,'-20',-45],[1549.832,1.63,'-16',-50],[1550.134,2.76,'-20',-50],
  [1550.057,2.28,'-16',-45],[1549.994,1.24,'-16',-55],[1550.17,2.0,'-16',-75],[1550.161,1.4,'-16',-100]
];

const FONT = '"Liberation Sans", Arial, sans-serif';
const TEXT = '#3c3c3c';
const FRAME = '#3a3a3a';

function colorOf(p) {
  let best = 0;
  powerLevels.forEach((l, i) => { if (Math.abs(l - p) < Math.abs(powerLevels[best] - p)) best = i; });
  return powerColors[best];
}

function toPoints(list) {
  return list.map(p => ({ x: p[0], y: p[1] }));
}

// frame, inward ticks and the panel letter
function drawFrame(chart, letter) {
  const { ctx, chartArea: a, scales } = chart;
  ctx.save();
  ctx.strokeStyle = FRAME;
  ctx.lineWidth = 1;
  ctx.strokeRect(a.left, a.top, a.right - a.left, a.bottom - a.top);
  ctx.beginPath();
  scales.x.ticks.forEach(t => {
    const px = scales.x.getPixelForValue(t.value);
    ctx.moveTo(px, a.bottom); ctx.lineTo(px, a.bottom - 3);
    ctx.moveTo(px, a.top); ctx.lineTo(px, a.top + 3);
  });
  scales.y.ticks.forEach(t => {
    const py = scales.y.getPixelForValue(t.value);
    ctx.moveTo(a.left, py); ctx.lineTo(a.left + 3, py);
    ctx.moveTo(a.right, py); ctx.lineTo(a.right - 3, py);
  });
  ctx.stroke();
  if (letter) {
    ctx.fillStyle = '#222';
    ctx.font = '23px ' + FONT;
    ctx.textAlign = 'left';
    ctx.textBaseline = 'alphabetic';
    ctx.fillText(letter.text, letter.x, letter.y);
  }
  ctx.restore();
}

function contourPanel(cfg) {
  const canvas = document.createElement('canvas');
  canvas.width = 258; canvas.height = 279;
  canvas.style.left = (cfg.left - 48) + 'px';
  canvas.style.top = (cfg.top - 36) + 'px';
  document.body.appendChild(canvas);

  // paint order: filled regions, ridges level by level, then contours
  const sets = [];
  cfg.lobes.forEach(([p, outline]) => {
    const c = colorOf(p);
    sets.push({ data: toPoints(outline.concat([outline[0]])), showLine: true, tension: 0.3, fill: 'shape',
      backgroundColor: c, borderColor: c, borderWidth: 1, pointRadius: 0, clip: 0 });
  });
  powerLevels.forEach((level, i) => {
    if (level > cfg.bg) return;
    cfg.ridges.forEach(r => {
      const segP = ctx => (r[ctx.p0DataIndex][2] + r[ctx.p1DataIndex][2]) / 2;
      sets.push({ data: toPoints(r), showLine: true, tension: 0.4, pointRadius: 0, clip: 0,
        borderColor: powerColors[i], borderWidth: 1, borderCapStyle: 'round', borderJoinStyle: 'round',
        segment: {
          borderColor: ctx => segP(ctx) < level ? powerColors[i] : 'rgba(0,0,0,0)',
          borderWidth: ctx => Math.max(0.1, 3 + 5 * (level - segP(ctx)))
        } });
    });
  });
  cfg.contours.forEach(c => {
    sets.push({ data: toPoints(c), showLine: true, tension: 0.4, pointRadius: 0, clip: 0,
      borderColor: '#10101a', borderWidth: 1, borderDash: [6, 4] });
  });
  (cfg.dotted || []).forEach(c => {
    sets.push({ data: toPoints(c), showLine: true, tension: 0.4, pointRadius: 0, clip: 0,
      borderColor: '#10101a', borderWidth: 1.6, borderDash: [2, 3] });
  });

  const extras = {
    id: 'panelExtras',
    beforeDatasetsDraw(chart) {
      const a = chart.chartArea;
      chart.ctx.save();
      chart.ctx.fillStyle = colorOf(cfg.bg);
      chart.ctx.fillRect(a.left, a.top, a.right - a.left, a.bottom - a.top);
      chart.ctx.restore();
    },
    afterDatasetsDraw(chart) {
      const { ctx, scales, chartArea: a } = chart;
      ctx.save();
      ctx.beginPath();
      ctx.rect(a.left, a.top, a.right - a.left, a.bottom - a.top);
      ctx.clip();
      ctx.fillStyle = '#14141c';
      ctx.font = '16.5px ' + FONT;
      ctx.textAlign = 'center';
      ctx.textBaseline = 'middle';
      cfg.labels.forEach(([l, v, text, rot]) => {
        ctx.save();
        ctx.translate(scales.x.getPixelForValue(l), scales.y.getPixelForValue(v));
        ctx.rotate(rot * Math.PI / 180);
        ctx.fillText(text, 0, 0);
        ctx.restore();
      });
      ctx.restore();
    },
    afterDraw(chart) { drawFrame(chart, cfg.letter); }
  };

  new Chart(canvas, {
    type: 'scatter',
    data: { datasets: sets.reverse() },
    plugins: [extras],
    options: {
      responsive: false, animation: false, events: [],
      plugins: {
        legend: { display: false }, tooltip: { enabled: false },
        title: { display: true, text: cfg.title, fullSize: false, color: '#111',
          font: { family: FONT, size: 17, weight: 'bold' }, padding: { top: 12.8, bottom: 2.8 } }
      },
      scales: {
        x: { type: 'linear', min: 1549.7, max: 1550.2, grid: { display: false, drawTicks: false }, border: { display: false },
          afterBuildTicks: s => { s.ticks = lambdaTicks.map(value => ({ value })); },
          afterFit: s => { s.height = 51; s.paddingLeft = 0; s.paddingRight = 24; },
          ticks: { color: TEXT, padding: 8, maxRotation: 0, autoSkip: false, font: { family: FONT, size: 15.5 }, callback: v => String(v) },
          title: { display: true, text: 'λ [nm]', color: TEXT, padding: 0, font: { family: FONT, size: 17 } } },
        y: { type: 'linear', min: 0, max: 5, grid: { display: false, drawTicks: false }, border: { display: false },
          afterBuildTicks: s => { s.ticks = voltTicks.map(value => ({ value })); },
          afterFit: s => { s.width = 48; },
          ticks: { color: TEXT, padding: 6, font: { family: FONT, size: 15.5 }, callback: v => String(v) },
          title: { display: true, text: cfg.ylabel, color: TEXT, padding: { top: 9, bottom: 0 }, font: { family: FONT, size: 17.5 } } }
      }
    }
  });
}

contourPanel({ left: 48, top: 36, bg: -12.5, title: 'H2,H3,H4=0V', ylabel: 'Voltage @ H1 [V]', letter: { text: 'a', x: 12, y: 30 }, lobes: lobesA, ridges: ridgesA, contours: contoursA, dotted: dottedA, labels: labelsA });
contourPanel({ left: 311, top: 36, bg: -12.5, title: 'H1,H3,H4=0V', ylabel: 'Voltage @ H2 [V]', letter: { text: 'b', x: 13, y: 30 }, lobes: lobesB, ridges: ridgesB, contours: contoursB, dotted: dottedB, labels: labelsB });
contourPanel({ left: 575, top: 36, bg: -15.5, title: 'H1,H2,H4=0V', ylabel: 'Voltage @ H3 [V]', letter: { text: 'c', x: 12, y: 30 }, lobes: lobesC, ridges: ridgesC, contours: contoursC, labels: labelsC });
contourPanel({ left: 838, top: 36, bg: -15.5, title: 'H1,H2,H3=0V', ylabel: 'Voltage @ H4 [V]', letter: { text: 'd', x: 11, y: 30 }, lobes: lobesD, ridges: ridgesD, contours: contoursD, dotted: dottedD, labels: labelsD });
contourPanel({ left: 48, top: 306, bg: -15.5, title: 'H1=2.5V,H2=1V,H4=0V', ylabel: 'Voltage @ H3 [V]', letter: { text: 'e', x: 12, y: 27 }, lobes: lobesE, ridges: ridgesE, contours: contoursE, labels: labelsE });
contourPanel({ left: 311, top: 306, bg: -15.5, title: 'H1=2.5V,H2=1V,H3=2.5V', ylabel: 'Voltage @ H4 [V]', letter: { text: 'f', x: 14, y: 27 }, lobes: lobesF, ridges: ridgesF, contours: contoursF, labels: labelsF });

// Colour bar
(function () {
  const canvas = document.createElement('canvas');
  canvas.width = 62; canvas.height = 220;
  canvas.style.left = '1040px'; canvas.style.top = '20px';
  document.body.appendChild(canvas);
  new Chart(canvas, {
    type: 'bar',
    data: {
      labels: ['power'],
      datasets: cbarColors.map((c, i) => ({ data: [[cbarEdges[i + 1], cbarEdges[i]]], backgroundColor: c, borderWidth: 0, grouped: false, barPercentage: 1, categoryPercentage: 1 }))
    },
    plugins: [{ id: 'cbarFrame', afterDraw(chart) {
      const { ctx, chartArea: a } = chart;
      ctx.save();
      ctx.strokeStyle = FRAME;
      ctx.strokeRect(a.left, a.top, a.right - a.left, a.bottom - a.top);
      ctx.restore();
    } }],
    options: {
      responsive: false, animation: false, events: [],
      layout: { padding: { left: 6, top: 14, bottom: 13 } },
      plugins: { legend: { display: false }, tooltip: { enabled: false } },
      scales: {
        x: { display: false },
        y: { position: 'right', min: -18.95, max: -11.9, grid: { display: false, drawTicks: false }, border: { display: false },
          afterBuildTicks: s => { s.ticks = cbarTicks.map(value => ({ value })); },
          afterFit: s => { s.width = 46; },
          ticks: { color: TEXT, padding: 6, font: { family: FONT, size: 15 }, callback: v => String(v) },
          title: { display: true, text: 'power [dBm]', color: TEXT, padding: 0, font: { family: FONT, size: 16 } } }
      }
    }
  });
})();

// Panel g
(function () {
  const canvas = document.createElement('canvas');
  canvas.width = 547; canvas.height = 279;
  canvas.style.left = '522px'; canvas.style.top = '270px';
  document.body.appendChild(canvas);
  const series = [['3 GHz', bw3, '#0f77b8'], ['4.5GHz', bw45, '#d95319'], ['6.5GHz', bw65, '#edb120'], ['7.5GHz', bw75, '#7e2f8e']];
  const legendX = [6, 117, 237, 357];
  const extras = {
    id: 'gLegend',
    afterDraw(chart) {
      drawFrame(chart, { text: 'g', x: 2, y: 26 });
      const { ctx, chartArea: a } = chart;
      ctx.save();
      ctx.textBaseline = 'middle';
      ctx.textAlign = 'center';
      ctx.fillStyle = '#111';
      ctx.font = 'bold 14px ' + FONT;
      ctx.fillText('Bandwidth', a.left + 233.5, a.top + 8);
      ctx.textAlign = 'left';
      ctx.font = '14.5px ' + FONT;
      series.forEach(([name, , color], i) => {
        ctx.strokeStyle = color;
        ctx.lineWidth = 2.4;
        ctx.beginPath();
        ctx.moveTo(a.left + legendX[i], a.top + 31.5);
        ctx.lineTo(a.left + legendX[i] + 53, a.top + 31.5);
        ctx.stroke();
        ctx.fillStyle = TEXT;
        ctx.fillText(name, a.left + legendX[i] + 58, a.top + 31.5);
      });
      ctx.restore();
    }
  };
  new Chart(canvas, {
    type: 'line',
    data: {
      datasets: series.map(([name, vals, color]) => ({
        label: name, data: lambdaG.map((x, i) => ({ x, y: vals[i] })),
        borderColor: color, borderWidth: 2.4, pointRadius: 0, tension: 0
      }))
    },
    plugins: [extras],
    options: {
      responsive: false, animation: false, events: [],
      layout: { padding: { top: 35.5 } },
      plugins: { legend: { display: false }, tooltip: { enabled: false } },
      scales: {
        x: { type: 'linear', min: 1549.7, max: 1550.2, grid: { display: false, drawTicks: false }, border: { display: false },
          afterBuildTicks: s => { s.ticks = gLambdaTicks.map(value => ({ value })); },
          afterFit: s => { s.height = 50; s.paddingLeft = 0; s.paddingRight = 30; },
          ticks: { color: TEXT, padding: 9, maxRotation: 0, autoSkip: false, font: { family: FONT, size: 15.5 }, callback: v => String(v) },
          title: { display: true, text: 'λ [nm]', color: TEXT, padding: 0, font: { family: FONT, size: 17 } } },
        y: { type: 'linear', min: -22, max: -5, grid: { display: false, drawTicks: false }, border: { display: false },
          afterBuildTicks: s => { s.ticks = gPowerTicks.map(value => ({ value })); },
          afterFit: s => { s.width = 52.3; },
          ticks: { color: TEXT, padding: 6, font: { family: FONT, size: 15.5 }, callback: v => String(v) },
          title: { display: true, text: 'Transm. power [dBm]', color: TEXT, padding: { top: 0, bottom: 0 }, font: { family: FONT, size: 17.5 } } }
      }
    }
  });
})();
</script>
</body>
</html>
